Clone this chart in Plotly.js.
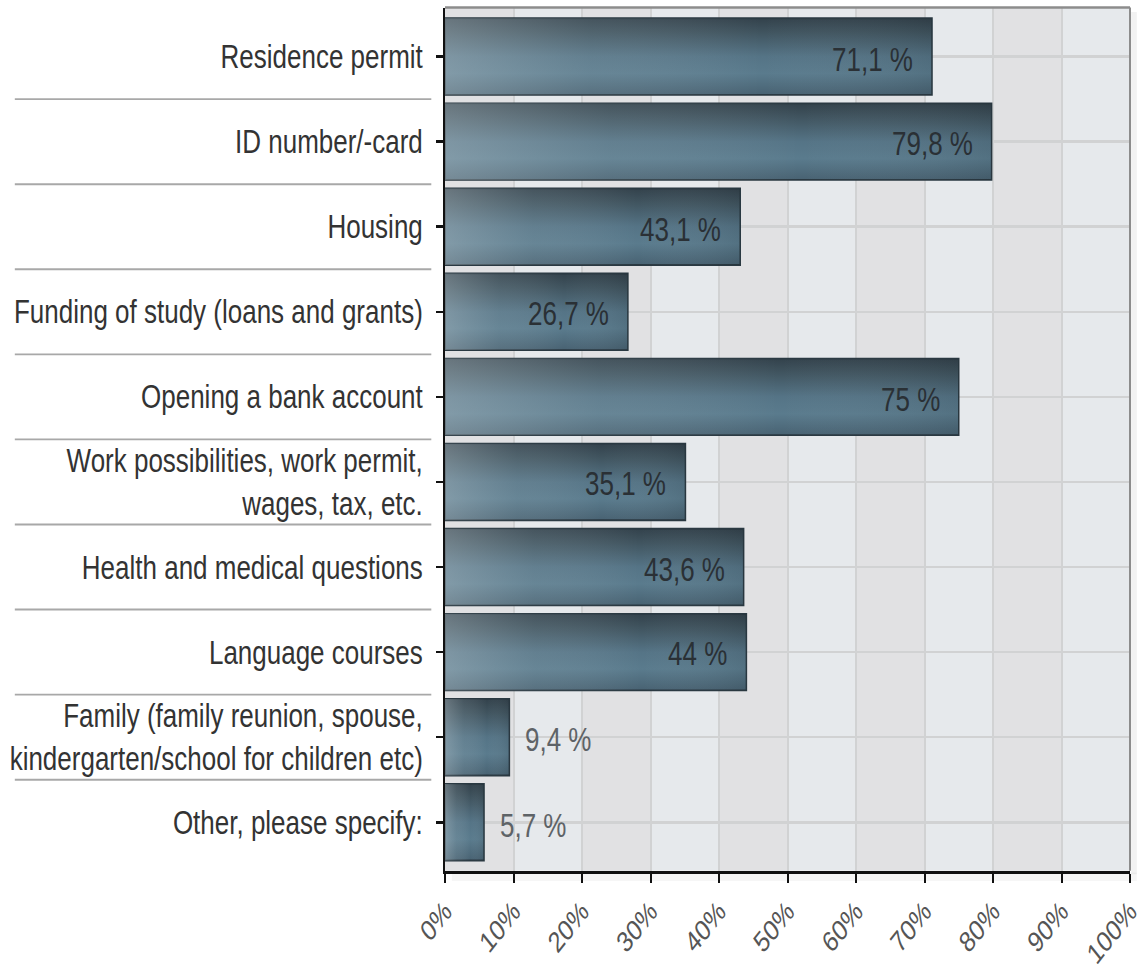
<!DOCTYPE html>
<html>
<head>
<meta charset="utf-8">
<script src="https://cdn.plot.ly/plotly-3.0.1.min.js"></script>
<style>
  html, body { margin: 0; padding: 0; background: #ffffff; }
  #wrap { width: 1141px; height: 964px; position: relative; overflow: hidden; }
  #chart { position: absolute; left: 0; top: 0; width: 1141px; height: 765px; transform: scaleY(1.26014); transform-origin: 0 0; }
</style>
</head>
<body>
<div id="wrap"><div id="chart"></div></div>
<script>
// ---- data ----
const categories = [
  'Residence permit',
  'ID number/-card',
  'Housing',
  'Funding of study (loans and grants)',
  'Opening a bank account',
  'Work possibilities, work permit,<br>wages, tax, etc.',
  'Health and medical questions',
  'Language courses',
  'Family (family reunion, spouse,<br>kindergarten/school for children etc)',
  'Other, please specify:'
];
const values = [71.1, 79.8, 43.1, 26.7, 75, 35.1, 43.6, 44, 9.4, 5.7];
const valueLabels = ['71,1 %', '79,8 %', '43,1 %', '26,7 %', '75 %', '35,1 %', '43,6 %', '44 %', '9,4 %', '5,7 %'];
const xTickVals = [0, 10, 20, 30, 40, 50, 60, 70, 80, 90, 100];
const xTickText = ['0%', '10%', '20%', '30%', '40%', '50%', '60%', '70%', '80%', '90%', '100%'];

// ---- styling ----
const FONT = 'Liberation Sans, Arial, Helvetica, sans-serif';

const trace = {
  type: 'bar',
  orientation: 'h',
  y: categories,
  x: values,
  width: 0.9,
  marker: { color: '#4f6b7b', line: { color: '#2a3942', width: 1.5 } },
  hoverinfo: 'none'
};

const annotations = values.map((v, i) => {
  const inside = v > 20;
  return {
    x: v, y: categories[i], xref: 'x', yref: 'y',
    text: valueLabels[i], showarrow: false,
    xanchor: inside ? 'right' : 'left',
    xshift: inside ? -17 : 14, yshift: -2,
    font: { family: FONT, size: 26, color: inside ? '#2a3035' : '#5e6367' }
  };
});

const shapes = [];
// alternating column bands
for (let k = 0; k < xTickVals.length - 1; k += 2) {
  shapes.push({
    type: 'rect', xref: 'x', yref: 'paper', layer: 'below',
    x0: xTickVals[k], x1: xTickVals[k + 1], y0: 0, y1: 1,
    fillcolor: '#e1e1e3', line: { width: 0 }
  });
}
// top & right frame
shapes.push({ type: 'line', xref: 'paper', yref: 'paper', x0: 0, x1: 1, y0: 1, y1: 1, layer: 'above', line: { color: '#8c8c8c', width: 2 } });
shapes.push({ type: 'line', xref: 'paper', yref: 'paper', x0: 1, x1: 1, y0: 0, y1: 1, layer: 'above', line: { color: '#8c8c8c', width: 2 } });
// soft shadow right / bottom
shapes.push({ type: 'rect', xref: 'paper', yref: 'paper', x0: 1.0015, x1: 1.01, y0: -0.004, y1: 0.995, layer: 'below', fillcolor: 'rgba(0,0,0,0.05)', line: { width: 0 } });
shapes.push({ type: 'rect', xref: 'paper', yref: 'paper', x0: 0.01, x1: 1.01, y0: -0.012, y1: -0.002, layer: 'below', fillcolor: 'rgba(0,0,0,0.035)', line: { width: 0 } });
// separators between category labels (left margin)
for (let i = 0; i < categories.length - 1; i++) {
  shapes.push({
    type: 'line', xref: 'paper', yref: 'y',
    x0: -0.628, x1: -0.02, y0: i + 0.5, y1: i + 0.5,
    layer: 'above', line: { color: '#a8a8a8', width: 1.5 }
  });
}

const layout = {
  width: 1141, height: 765,
  margin: { l: 445, r: 11, t: 6, b: 74, pad: 0 },
  paper_bgcolor: '#ffffff',
  plot_bgcolor: '#e6e9ec',
  showlegend: false,
  font: { family: FONT, color: '#333' },
  xaxis: {
    range: [0, 100], fixedrange: true,
    tickmode: 'array', tickvals: xTickVals, ticktext: xTickText,
    tickangle: -45, ticklabeloverflow: 'allow',
    ticks: 'outside', ticklen: 7, tickwidth: 2, tickcolor: '#111',
    showline: true, linecolor: '#111', linewidth: 2.5,
    showgrid: true, gridcolor: '#d1d2d3', gridwidth: 2,
    zeroline: false,
    tickfont: { family: FONT, size: 23, color: '#555' }
  },
  yaxis: {
    type: 'category', categoryorder: 'array', categoryarray: categories,
    range: [9.57, -0.576], fixedrange: true,
    ticks: 'outside', ticklen: 7, tickwidth: 2, tickcolor: '#111',
    ticklabelstandoff: 8,
    showline: true, linecolor: '#111', linewidth: 2,
    showgrid: true, gridcolor: '#d1d2d3', gridwidth: 2,
    zeroline: false,
    tickfont: { family: FONT, size: 26, color: '#333' }
  },
  shapes: shapes,
  annotations: annotations
};

Plotly.newPlot('chart', [trace], layout, { staticPlot: true, displayModeBar: false }).then(gd => {
  const svg = gd.querySelector('.main-svg');
  const NS = 'http://www.w3.org/2000/svg';
  let defs = svg.querySelector('defs');
  if (!defs) { defs = document.createElementNS(NS, 'defs'); svg.insertBefore(defs, svg.firstChild); }
  function grad(id, x2, y2, stops) {
    const g = document.createElementNS(NS, 'linearGradient');
    g.setAttribute('id', id);
    g.setAttribute('x1', '0'); g.setAttribute('y1', '0');
    g.setAttribute('x2', x2); g.setAttribute('y2', y2);
    stops.forEach(s => {
      const st = document.createElementNS(NS, 'stop');
      st.setAttribute('offset', s[0]);
      st.setAttribute('stop-color', s[1]);
      st.setAttribute('stop-opacity', s[2]);
      g.appendChild(st);
    });
    defs.appendChild(g);
  }
  grad('barV', '0', '1', [
    ['0', '#33424c', 1], ['0.18', '#40545f', 1], ['0.5', '#557486', 1],
    ['0.72', '#5a7b8d', 1], ['1', '#486272', 1]
  ]);
  grad('barH', '1', '0', [
    ['0', '#c9d3d8', 0.36], ['0.3', '#b8c6cc', 0.14], ['0.65', '#ffffff', 0.0], ['1', '#000000', 0.08]
  ]);
  gd.querySelectorAll('.barlayer .point path').forEach(p => {
    p.style.fill = 'url(#barV)';
    const c = p.cloneNode(true);
    c.style.fill = 'url(#barH)';
    c.style.stroke = 'none';
    p.parentNode.insertBefore(c, p.nextSibling);
  });
});
</script>
</body>
</html>
